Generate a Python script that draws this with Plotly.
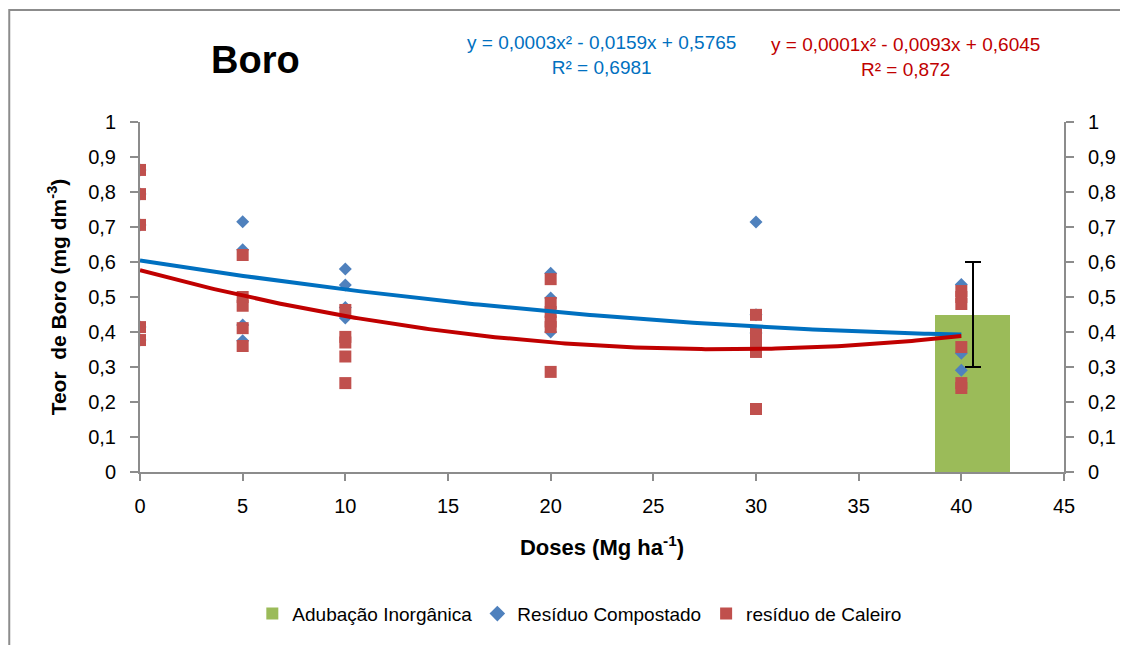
import numpy as np
import plotly.graph_objects as go

# ---------------- data ----------------
comp_x = [0, 0, 0, 0, 0, 5, 5, 5, 5, 10, 10, 10, 10, 20, 20, 20, 30, 30, 30, 40, 40, 40]
comp_y = [0.863, 0.794, 0.706, 0.414, 0.377,
          0.715, 0.635, 0.42, 0.375,
          0.58, 0.534, 0.47, 0.44,
          0.568, 0.497, 0.40,
          0.714, 0.449, 0.397,
          0.536, 0.339, 0.291]

cal_x = [0, 0, 0, 0, 0, 5, 5, 5, 5, 5, 10, 10, 10, 10, 10,
         20, 20, 20, 20, 20, 20, 30, 30, 30, 30, 30, 40, 40, 40, 40, 40, 40]
cal_y = [0.863, 0.794, 0.706, 0.414, 0.377,
         0.62, 0.50, 0.475, 0.411, 0.36,
         0.463, 0.386, 0.37, 0.33, 0.254,
         0.551, 0.483, 0.457, 0.43, 0.414, 0.286,
         0.449, 0.397, 0.369, 0.343, 0.18,
         0.517, 0.50, 0.48, 0.357, 0.254, 0.24]

inorg_x = [40.55]
inorg_y = [0.45]
inorg_err = [0.15]

# trendline coefficients (a, b, c) as drawn
trend_comp = [0.0001, -0.0093, 0.6045]
trend_cal = [0.00028, -0.0159, 0.5765]

eq_blue = ["y = 0,0003x² - 0,0159x + 0,5765", "R² = 0,6981"]
eq_red = ["y = 0,0001x² - 0,0093x + 0,6045", "R² = 0,872"]

y_ticks = [0, 0.1, 0.2, 0.3, 0.4, 0.5, 0.6, 0.7, 0.8, 0.9, 1]
y_ticktext = ["0", "0,1", "0,2", "0,3", "0,4", "0,5", "0,6", "0,7", "0,8", "0,9", "1"]
x_ticks = [0, 5, 10, 15, 20, 25, 30, 35, 40, 45]

FONT = "Liberation Sans, Arial, sans-serif"
AXC = "#8c8c8c"

fig = go.Figure()

fig.add_trace(go.Bar(
    x=inorg_x, y=inorg_y, width=3.64, name="Adubação Inorgânica",
    marker=dict(color="#9BBB59", line=dict(width=0)),
    error_y=dict(type="data", array=inorg_err, visible=True, color="black", thickness=2, width=8),
))

fig.add_trace(go.Scatter(
    x=comp_x, y=comp_y, mode="markers", name="Resíduo Compostado",
    marker=dict(symbol="diamond", size=10, color="#4F81BD"),
))
fig.add_trace(go.Scatter(
    x=cal_x, y=cal_y, mode="markers", name="resíduo de Caleiro",
    marker=dict(symbol="square", size=12, color="#C0504D"),
))

xs = np.linspace(0, 40, 200)
fig.add_trace(go.Scatter(
    x=xs, y=np.polyval(trend_comp, xs), mode="lines", showlegend=False,
    line=dict(color="#0070C0", width=4), hoverinfo="skip",
))
fig.add_trace(go.Scatter(
    x=xs, y=np.polyval(trend_cal, xs), mode="lines", showlegend=False,
    line=dict(color="#C00000", width=4), hoverinfo="skip",
))
# dummy trace for secondary axis
fig.add_trace(go.Scatter(x=[None], y=[None], yaxis="y2", showlegend=False))

fig.update_layout(
    width=1120, height=637,
    margin=dict(l=132, r=61, t=114, b=173),
    paper_bgcolor="white", plot_bgcolor="white",
    font=dict(family=FONT, size=20, color="black"),
    showlegend=True,
    legend=dict(orientation="h", x=0.476, xanchor="center", y=-0.405, yanchor="middle",
                font=dict(size=19), itemsizing="constant", traceorder="normal"),
    xaxis=dict(range=[0, 45], tickvals=x_ticks, showline=True, linecolor=AXC, linewidth=2,
               ticks="outside", tickcolor=AXC, ticklen=7, tickwidth=2, showgrid=False,
               zeroline=False, tickfont=dict(size=20), ticklabelstandoff=8,
               title=dict(text="<b>Doses (Mg ha<sup>-1</sup>)</b>", font=dict(size=22), standoff=24)),
    yaxis=dict(range=[0, 1], tickvals=y_ticks, ticktext=y_ticktext, showline=True, linecolor=AXC,
               linewidth=2, ticks="outside", tickcolor=AXC, ticklen=8, tickwidth=2, showgrid=False,
               zeroline=False, tickfont=dict(size=20), ticklabelstandoff=10,
               title=dict(text="<b>Teor  de Boro (mg dm<sup>-3</sup>)</b>", font=dict(size=21), standoff=16)),
    yaxis2=dict(range=[0, 1], overlaying="y", side="right", tickvals=y_ticks, ticktext=y_ticktext,
                showline=True, linecolor=AXC, linewidth=2, ticks="outside", tickcolor=AXC, ticklen=8,
                tickwidth=2, showgrid=False, zeroline=False, tickfont=dict(size=20), ticklabelstandoff=10),
    bargap=0,
)

fig.add_annotation(text="<b>Boro</b>", xref="paper", yref="paper", x=0.125, y=1.176,
                   showarrow=False, font=dict(size=38, color="black"), xanchor="center", yanchor="middle")
fig.add_annotation(text=eq_blue[0] + "<br>" + eq_blue[1], xref="paper", yref="paper",
                   x=0.4995, y=1.191, showarrow=False, align="center", xanchor="center", yanchor="middle",
                   font=dict(size=19, color="#0070C0"))
fig.add_annotation(text=eq_red[0] + "<br>" + eq_red[1], xref="paper", yref="paper",
                   x=0.8285, y=1.186, showarrow=False, align="center", xanchor="center", yanchor="middle",
                   font=dict(size=19, color="#C00000"))

# outer chart border
fig.add_shape(type="rect", xref="paper", yref="paper", x0=-0.1415, x1=1.2, y0=-0.6, y1=1.32,
              line=dict(color="#8c8c8c", width=2), fillcolor="rgba(0,0,0,0)", layer="below")

fig.write_html("out.html")
